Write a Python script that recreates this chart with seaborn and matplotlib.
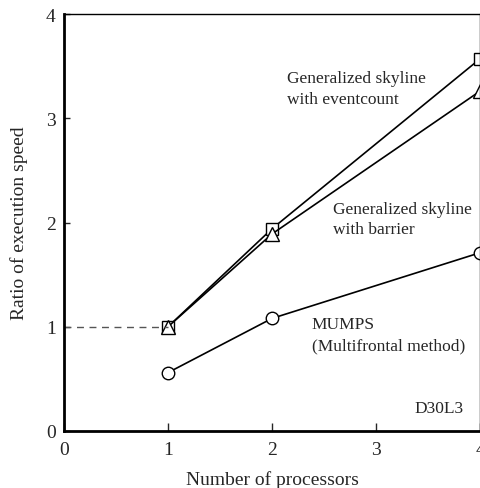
import matplotlib
matplotlib.use("Agg")
import matplotlib.pyplot as plt
import seaborn as sns
import pandas as pd

procs = [1, 2, 4]
eventcount = [1.0, 1.94, 3.57]
barrier = [1.0, 1.89, 3.26]
mumps = [0.56, 1.08, 1.71]

sns.set_style("ticks")
plt.rcParams['font.family'] = ['Liberation Serif', 'DejaVu Serif']

fig = plt.figure(figsize=(4.8, 4.89), dpi=100)
ax = fig.add_axes([64/480, 1-432/489, 1-64/480, (432-15)/489])

df = pd.DataFrame({"p": procs, "e": eventcount, "b": barrier, "m": mumps})
for col, mk, s in [("e", "s", 9), ("b", "^", 9.5), ("m", "o", 9)]:
    sns.lineplot(data=df, x="p", y=col, ax=ax, color="black", linewidth=1.2,
                 marker=mk, markersize=s, markerfacecolor="white",
                 markeredgecolor="black", markeredgewidth=1.0, clip_on=False)

ax.plot([0, 1], [1, 1], linestyle=(0, (5, 4)), color="#555555", linewidth=1.0)

ax.set_xlim(0, 4)
ax.set_ylim(0, 4)
ax.set_xticks([0, 1, 2, 3, 4])
ax.set_yticks([0, 1, 2, 3, 4])
ax.tick_params(axis="x", direction="in", length=6, width=1, labelsize=14, pad=7)
ax.tick_params(axis="y", direction="in", length=4, width=1, labelsize=14, pad=6)
ax.set_xlabel("Number of processors", fontsize=14, labelpad=9)
ax.set_ylabel("Ratio of execution speed", fontsize=14, labelpad=13)

for s in ["left", "bottom"]:
    ax.spines[s].set_linewidth(2)
for s in ["top", "right"]:
    ax.spines[s].set_linewidth(1)
for s in ax.spines.values():
    s.set_color("black")

fs = 12.5
ax.text(2.14, 3.46, "Generalized skyline\nwith eventcount", fontsize=fs, va="top", ha="left", linespacing=1.4)
ax.text(2.59, 2.21, "Generalized skyline\nwith barrier", fontsize=fs, va="top", ha="left", linespacing=1.4)
ax.text(2.38, 1.10, "MUMPS\n(Multifrontal method)", fontsize=fs, va="top", ha="left", linespacing=1.4)
ax.text(3.37, 0.22, "D30L3", fontsize=fs, va="center", ha="left")

fig.savefig("out.png", dpi=100)
